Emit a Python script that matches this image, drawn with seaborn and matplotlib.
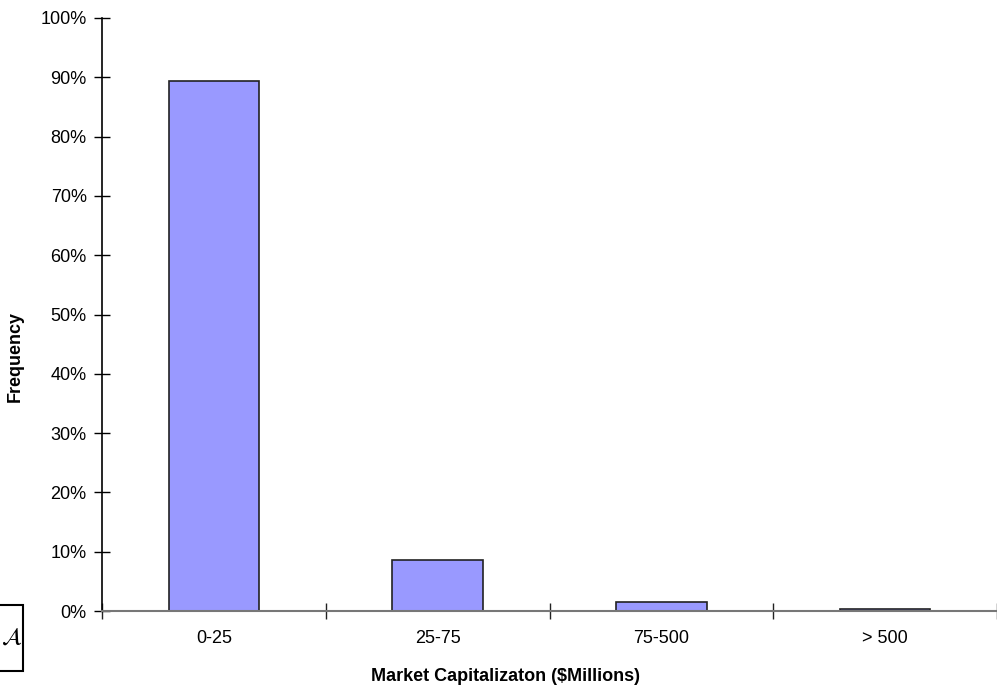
import matplotlib
matplotlib.use("Agg")
import matplotlib.pyplot as plt
import matplotlib.patches as patches
from matplotlib.ticker import FuncFormatter, FixedLocator
import pandas as pd
import seaborn as sns

# Data
categories = ["0-25", "25-75", "75-500", "> 500"]
frequency = [0.894, 0.086, 0.016, 0.003]

sns.set_style("white", {"text.color": "black", "axes.labelcolor": "black",
                        "xtick.color": "black", "ytick.color": "black"})
plt.rcParams['font.family'] = ['Liberation Sans', 'DejaVu Sans']
plt.rcParams['font.size'] = 13

df = pd.DataFrame({"cap": categories, "freq": frequency})

fig = plt.figure(figsize=(9.97, 6.87), dpi=100)
ax = fig.add_axes([102 / 997, 1 - 611 / 687, 895 / 997, 593 / 687])

sns.barplot(data=df, x="cap", y="freq", color="#9999FF", saturation=1,
            width=0.405, edgecolor="#222222", linewidth=1.2, ax=ax)

ax.set_xlim(-0.5, 3.5)
ax.set_ylim(0, 1.0)

# y axis: percentage ticks crossing the spine
ax.set_yticks([i / 10 for i in range(11)])
ax.yaxis.set_major_formatter(FuncFormatter(lambda y, _: f"{y * 100:.0f}%"))
ax.tick_params(axis="y", direction="inout", length=12, width=1, pad=5,
               labelsize=13, left=True, colors="black")

# x axis: boundary ticks, labels centred on bars
ax.xaxis.set_major_locator(FixedLocator([-0.5, 0.5, 1.5, 2.5, 3.5]))
ax.xaxis.set_major_formatter(FuncFormatter(lambda x, _: ""))
ax.xaxis.set_minor_locator(FixedLocator(range(len(categories))))
ax.set_xticklabels(categories, minor=True)
ax.tick_params(axis="x", which="major", direction="inout", length=12,
               width=1, bottom=True, color="#222222")
ax.tick_params(axis="x", which="minor", length=0, pad=14, labelsize=13,
               labelcolor="black")

for side in ["top", "right"]:
    ax.spines[side].set_visible(False)
ax.spines["left"].set_color("black")
ax.spines["left"].set_linewidth(1.2)
ax.spines["bottom"].set_color("#777777")
ax.spines["bottom"].set_linewidth(1.5)

ax.set_xlabel("Market Capitalizaton ($Millions)", fontweight="bold",
              fontsize=13, color="black")
ax.xaxis.set_label_coords((505 - 102) / 895, (611 - 668) / 593)
ax.set_ylabel("Frequency", fontweight="bold", fontsize=13, color="black")
ax.yaxis.set_label_coords((24 - 102) / 895, (611 - 357) / 593)

# small boxed logo in the bottom-left corner
fig.patches.append(patches.Rectangle((-2 / 997, 1 - 671 / 687), 25 / 997, 66 / 687,
                                     transform=fig.transFigure, fill=False,
                                     edgecolor="black", linewidth=1.5))
fig.text(12 / 997, 1 - 638 / 687, r"$\mathcal{A}$", fontsize=17,
         ha="center", va="center", color="black")

fig.savefig("out.png", dpi=100)
